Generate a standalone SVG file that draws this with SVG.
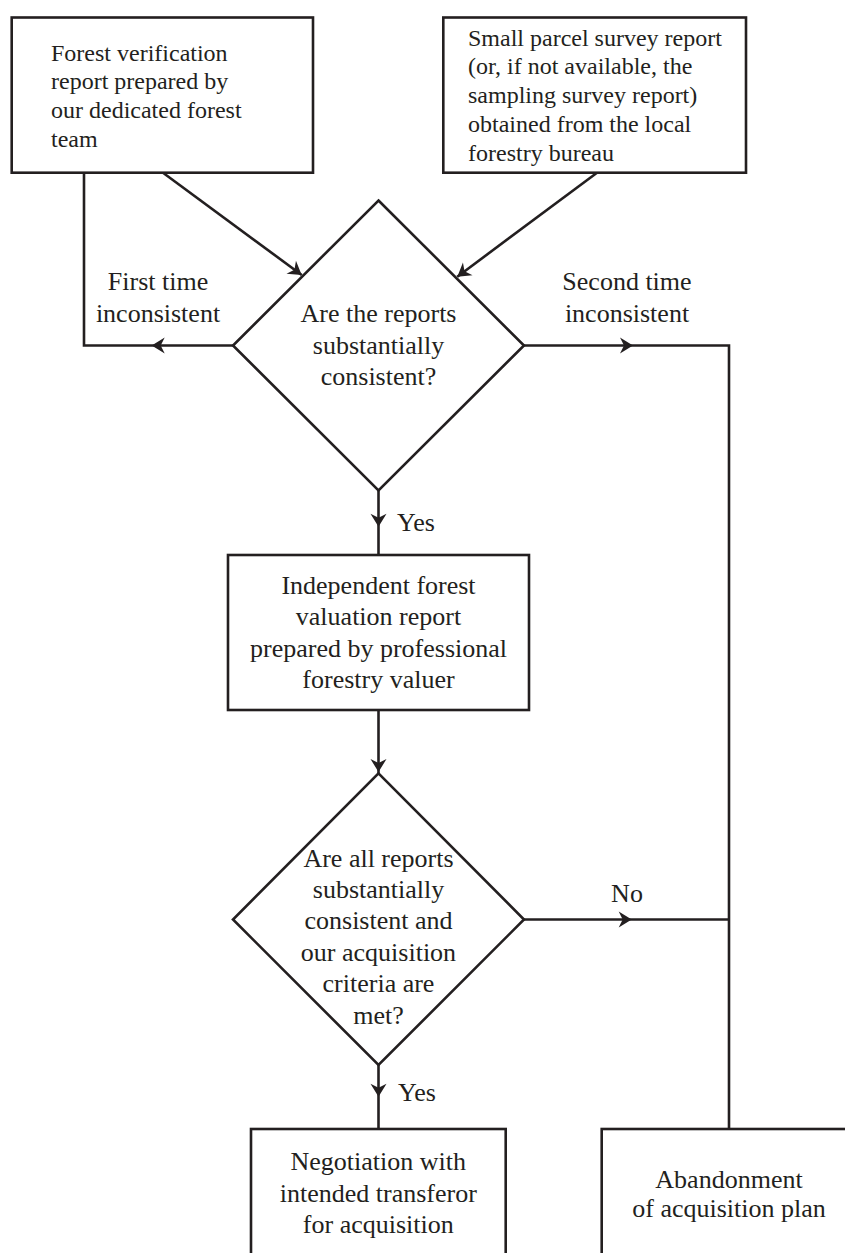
<svg xmlns="http://www.w3.org/2000/svg" width="845" height="1253" viewBox="0 0 845 1253">
<style>
.box{fill:#fff;stroke:#231f20;stroke-width:2.6}
.ln{fill:none;stroke:#231f20;stroke-width:2.6}
.t{font-family:"Liberation Serif","Times New Roman",serif;fill:#231f20;font-size:26px}
.s{font-size:24px}
.c{text-anchor:middle}
</style>
<defs>
<path id="ah" d="M0,0 L-13,-8 L-9,0 L-13,8 Z" fill="#231f20"/>
</defs>
<rect width="845" height="1253" fill="#fff"/>
<g id="connectors">
<path class="ln" d="M163,172.7 L301.7,275"/>
<path class="ln" d="M597,172.7 L457.3,276.7"/>
<path class="ln" d="M233,345.5 L84,345.5 L84,172.7"/>
<path class="ln" d="M524,345.5 L729,345.5 L729,1129"/>
<path class="ln" d="M378.5,490.5 L378.5,555"/>
<path class="ln" d="M378.5,710 L378.5,773.3"/>
<path class="ln" d="M524,919.5 L729,919.5"/>
<path class="ln" d="M378.5,1065 L378.5,1129"/>
<use href="#ah" transform="translate(301.7,275) rotate(36.3)"/>
<use href="#ah" transform="translate(457.3,276.7) rotate(143.3)"/>
<use href="#ah" transform="translate(151.7,345.5) rotate(180)"/>
<use href="#ah" transform="translate(633,345.5)"/>
<use href="#ah" transform="translate(378.5,526.7) rotate(90)"/>
<use href="#ah" transform="translate(378.5,772) rotate(90)"/>
<use href="#ah" transform="translate(631.7,919.5)"/>
<use href="#ah" transform="translate(378.5,1096.7) rotate(90)"/>
<text class="t c" x="158" y="290">First time</text>
<text class="t c" x="158" y="322">inconsistent</text>
<text class="t c" x="627" y="290">Second time</text>
<text class="t c" x="627" y="322">inconsistent</text>
<text class="t" x="397" y="531">Yes</text>
<text class="t c" x="627" y="902">No</text>
<text class="t" x="398" y="1101">Yes</text>
</g>
<g id="n1">
<rect class="box" x="11.7" y="17.5" width="301.3" height="155.2"/>
<text class="t s" x="51" y="60.7">Forest verification</text>
<text class="t s" x="51" y="89.3">report prepared by</text>
<text class="t s" x="51" y="117.9">our dedicated forest</text>
<text class="t s" x="51" y="146.6">team</text>
</g>
<g id="n2">
<rect class="box" x="443.3" y="17.5" width="302.7" height="155.2"/>
<text class="t s" x="468" y="45.7">Small parcel survey report</text>
<text class="t s" x="468" y="74.4">(or, if not available, the</text>
<text class="t s" x="468" y="103">sampling survey report)</text>
<text class="t s" x="468" y="131.8">obtained from the local</text>
<text class="t s" x="468" y="160.6">forestry bureau</text>
</g>
<g id="d1">
<polygon class="box" points="378.5,200.5 524,345.5 378.5,490.5 233,345.5"/>
<text class="t c" x="378.5" y="322">Are the reports</text>
<text class="t c" x="378.5" y="353.5">substantially</text>
<text class="t c" x="378.5" y="384.5">consistent?</text>
</g>
<g id="n3">
<rect class="box" x="228" y="555" width="301" height="155"/>
<text class="t c" x="378.5" y="594">Independent forest</text>
<text class="t c" x="378.5" y="625.3">valuation report</text>
<text class="t c" x="378.5" y="656.6">prepared by professional</text>
<text class="t c" x="378.5" y="688">forestry valuer</text>
</g>
<g id="d2">
<polygon class="box" points="378.5,773.3 524,919.5 378.5,1065 233,919.5"/>
<text class="t c" x="378.5" y="866.7">Are all reports</text>
<text class="t c" x="378.5" y="898">substantially</text>
<text class="t c" x="378.5" y="929.4">consistent and</text>
<text class="t c" x="378.5" y="960.8">our acquisition</text>
<text class="t c" x="378.5" y="992.2">criteria are</text>
<text class="t c" x="378.5" y="1023.6">met?</text>
</g>
<g id="n4">
<rect class="box" x="251" y="1129" width="254.7" height="150"/>
<text class="t c" x="378.3" y="1170">Negotiation with</text>
<text class="t c" x="378.3" y="1201.6">intended transferor</text>
<text class="t c" x="378.3" y="1233.2">for acquisition</text>
</g>
<g id="n5">
<rect class="box" x="601.7" y="1129" width="260" height="150"/>
<text class="t c" x="729" y="1188.3">Abandonment</text>
<text class="t c" x="729" y="1216.8">of acquisition plan</text>
</g>
</svg>
